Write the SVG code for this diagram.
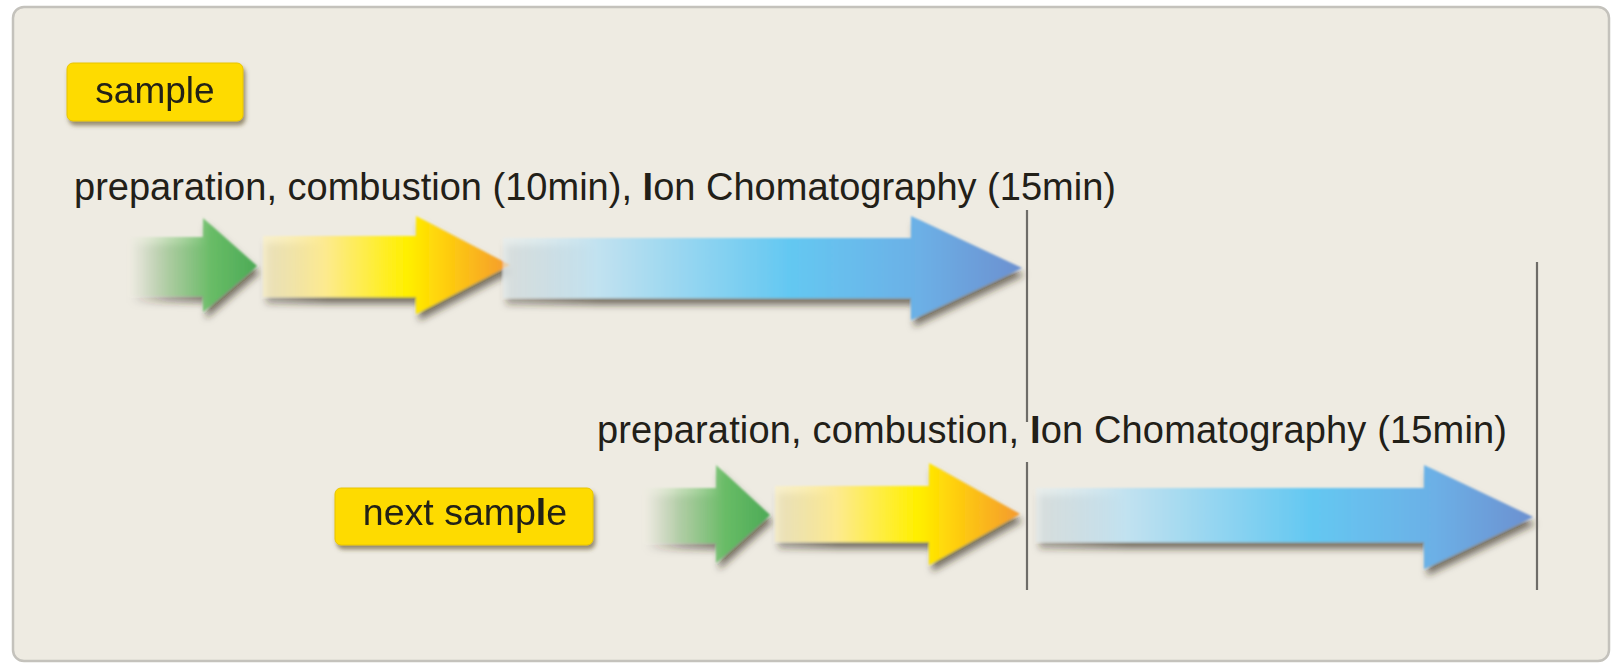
<svg xmlns="http://www.w3.org/2000/svg" width="1612" height="665" viewBox="0 0 1612 665">
<style>
.lbl{font-family:"Liberation Sans",Arial,sans-serif;fill:#222018}
.big{font-size:38px}
.box{fill:#fedb00;stroke:#e8c400;stroke-width:1}
.vline{stroke:#6e6c68;stroke-width:2.2;fill:none}
</style>
<defs>
<filter id="shadow" x="-10%" y="-30%" width="125%" height="175%">
<feGaussianBlur in="SourceAlpha" stdDeviation="3.5" result="b"/>
<feOffset in="b" dx="3" dy="7" result="o"/>
<feFlood flood-color="#2e2618" flood-opacity="0.6"/>
<feComposite in2="o" operator="in" result="s"/>
<feGaussianBlur in="SourceGraphic" stdDeviation="0.9" result="g"/>
<feMerge><feMergeNode in="s"/><feMergeNode in="g"/></feMerge>
</filter>
<filter id="boxshadow" x="-10%" y="-20%" width="125%" height="160%">
<feGaussianBlur in="SourceAlpha" stdDeviation="2" result="b"/>
<feOffset in="b" dx="2" dy="4" result="o"/>
<feFlood flood-color="#5a4a20" flood-opacity="0.6"/>
<feComposite in2="o" operator="in" result="s"/>
<feMerge><feMergeNode in="s"/><feMergeNode in="SourceGraphic"/></feMerge>
</filter>
<linearGradient id="gGreen" x1="0" y1="0" x2="1" y2="0">
<stop offset="0" stop-color="#d6e8c8" stop-opacity="0"/>
<stop offset="0.3" stop-color="#a6d49a" stop-opacity="0.6"/>
<stop offset="0.65" stop-color="#68bc66"/>
<stop offset="1" stop-color="#4caa56"/>
</linearGradient>
<linearGradient id="gYellow" x1="0" y1="0" x2="1" y2="0">
<stop offset="0" stop-color="#fdf2c0" stop-opacity="0.6"/>
<stop offset="0.25" stop-color="#fdea90"/>
<stop offset="0.58" stop-color="#fff000"/>
<stop offset="0.72" stop-color="#ffd20a"/>
<stop offset="1" stop-color="#f59a30"/>
</linearGradient>
<linearGradient id="gBlue" x1="0" y1="0" x2="1" y2="0">
<stop offset="0" stop-color="#e4eef0" stop-opacity="0.6"/>
<stop offset="0.18" stop-color="#c2e2f0"/>
<stop offset="0.55" stop-color="#64c8f2"/>
<stop offset="0.8" stop-color="#6cb0e6"/>
<stop offset="1" stop-color="#6c90d0"/>
</linearGradient>
</defs>

<rect x="0" y="0" width="1612" height="665" fill="#ffffff"/>
<rect id="panel" x="13" y="7" width="1596" height="654" rx="11" ry="11" fill="#eeebe2" stroke="#c4c2bc" stroke-width="2.5"/>

<g id="sample" filter="url(#boxshadow)">
<rect class="box" x="67" y="63" width="176" height="58" rx="6" ry="6"/>
<text class="lbl" x="155" y="103" font-size="37" text-anchor="middle">sample</text>
</g>

<g id="next-sample" filter="url(#boxshadow)">
<rect class="box" x="335" y="488" width="258" height="57" rx="6" ry="6"/>
<text class="lbl" x="465" y="525" font-size="37.5" text-anchor="middle">next samp<tspan font-weight="bold">l</tspan>e</text>
</g>

<g id="label-row1">
<text class="lbl big" x="74" y="200" textLength="1042">preparation, combustion (10min), <tspan font-weight="bold">I</tspan>on Chomatography (15min)</text>
</g>
<g id="label-row2">
<text class="lbl big" x="597" y="443" textLength="910">preparation, combustion, <tspan font-weight="bold">I</tspan>on Chomatography (15min)</text>
</g>

<g id="connectors">
<g id="row1-arrows" filter="url(#shadow)">
<path d="M128,237 L203,237 L203,218 L257,266 L203,312 L203,296 L128,296 Z" fill="url(#gGreen)"/>
<path d="M263,236 L416,236 L416,216 L510,265 L416,314 L416,297 L263,297 Z" fill="url(#gYellow)"/>
<path d="M503,238 L911,238 L911,216 L1022,268 L911,320 L911,298 L503,298 Z" fill="url(#gBlue)"/>
</g>
<g id="row2-arrows" filter="url(#shadow)">
<path d="M643,488 L716,488 L716,465 L770,515 L716,563 L716,543 L643,543 Z" fill="url(#gGreen)"/>
<path d="M775,486 L929,486 L929,463 L1020,514 L929,565 L929,542 L775,542 Z" fill="url(#gYellow)"/>
<path d="M1036,488 L1424,488 L1424,465 L1533,517 L1424,569 L1424,542 L1036,542 Z" fill="url(#gBlue)"/>
</g>
</g>

<g id="timelines">
<line class="vline" x1="1027" y1="210" x2="1027" y2="422"/>
<line class="vline" x1="1027" y1="462" x2="1027" y2="590"/>
<line class="vline" x1="1537" y1="262" x2="1537" y2="590"/>
</g>
</svg>
